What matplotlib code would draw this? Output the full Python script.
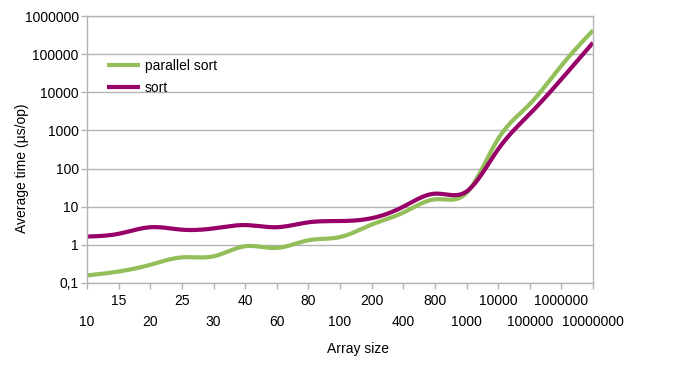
import numpy as np
import matplotlib
matplotlib.use("Agg")
import matplotlib.pyplot as plt
from matplotlib.ticker import FixedLocator, FuncFormatter

plt.rcParams['font.family'] = ['Liberation Sans', 'DejaVu Sans']

sizes = ['10', '15', '20', '25', '30', '40', '60', '80', '100', '200', '400',
         '800', '1000', '10000', '100000', '1000000', '10000000']
parallel_sort = [0.158, 0.20, 0.30, 0.47, 0.50, 0.92, 0.83, 1.32, 1.6, 3.4, 7.0,
                 15.6, 23, 600, 4900, 50000, 420000]
sort = [1.65, 1.95, 2.9, 2.5, 2.7, 3.3, 2.9, 3.9, 4.2, 5.0, 10.0,
        22, 25, 320, 2700, 22000, 200000]

GREEN = '#92bf5a'
PURPLE = '#970066'
GRID = '#b3b3b3'


def smooth(values, steps=20):
    # natural cubic spline through the points (in log space), like the
    # "cubic spline" line type of the office chart
    y = np.log10(values)
    n = len(y)
    A = np.zeros((n, n))
    b = np.zeros(n)
    A[0, 0] = A[-1, -1] = 1
    for i in range(1, n - 1):
        A[i, i - 1], A[i, i], A[i, i + 1] = 1, 4, 1
        b[i] = 6 * (y[i + 1] - 2 * y[i] + y[i - 1])
    m = np.linalg.solve(A, b)
    xs, ys = [], []
    for i in range(n - 1):
        t = np.linspace(0, 1, steps, endpoint=(i == n - 2))
        yy = ((1 - t) * y[i] + t * y[i + 1]
              + ((1 - t) ** 3 - (1 - t)) * m[i] / 6 + (t ** 3 - t) * m[i + 1] / 6)
        xs.extend(i + t)
        ys.extend(yy)
    return np.array(xs), 10 ** np.array(ys)


fig = plt.figure(figsize=(6.74, 3.78), dpi=100)
ax = fig.add_axes([87 / 674, 1 - 283 / 378, (593 - 87) / 674, (283 - 16) / 378])

xs, ys = smooth(parallel_sort)
ax.plot(xs, ys, color=GREEN, lw=3, label='parallel sort', solid_capstyle='butt')
xs, ys = smooth(sort)
ax.plot(xs, ys, color=PURPLE, lw=3, label='sort', solid_capstyle='butt')

ax.set_yscale('log')
ax.set_ylim(0.1, 1e6)
ax.set_xlim(0, len(sizes) - 1)
ax.yaxis.set_major_locator(FixedLocator([10.0 ** k for k in range(-1, 7)]))
ax.yaxis.set_minor_locator(FixedLocator([]))
ax.yaxis.set_major_formatter(FuncFormatter(
    lambda v, p: '0,1' if v < 1 else '%d' % round(v)))
ax.grid(axis='y', color=GRID, lw=1)

# labels alternate between two rows
ax.set_xticks(range(0, len(sizes), 2))
ax.set_xticklabels(sizes[0::2])
ax.set_xticks(range(1, len(sizes), 2), minor=True)
ax.set_xticklabels(sizes[1::2], minor=True)
ax.tick_params(axis='x', which='both', length=4, color=GRID, width=1, labelsize=10)
ax.tick_params(axis='x', which='minor', pad=4)
ax.tick_params(axis='x', which='major', pad=19)
ax.tick_params(axis='y', length=4, color=GRID, width=1, labelsize=10, pad=2)

for s in ax.spines.values():
    s.set_color(GRID)
    s.set_linewidth(1)

fig.text(358 / 674, 1 - 349 / 378, 'Array size', fontsize=10,
         ha='center', va='center')
fig.text(22 / 674, 1 - 168 / 378, 'Average time (µs/op)', fontsize=10,
         ha='center', va='center', rotation=90)

ax.legend(loc='upper left', bbox_to_anchor=(0.029, 0.86), frameon=False,
          fontsize=10, handlelength=2.37, handletextpad=0.36, labelspacing=0.59,
          borderaxespad=0)

fig.savefig('out.png', dpi=100)
